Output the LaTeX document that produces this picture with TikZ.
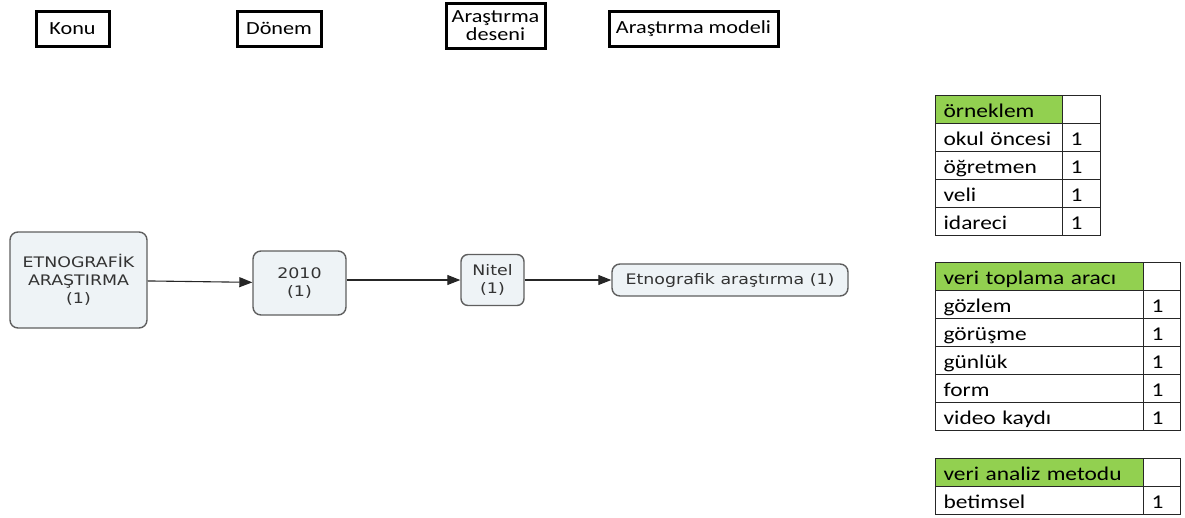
\documentclass[tikz,border=0pt]{standalone}
\usepackage{fontspec}
\setmainfont{Carlito}[FakeStretch=1.2]
\newfontfamily\flowfont{DejaVu Sans}[FakeStretch=1.2]
\usetikzlibrary{positioning, arrows.meta}
\definecolor{HeadGreen}{HTML}{92D050}
\definecolor{FlowFill}{HTML}{EEF3F6}
\definecolor{FlowLine}{HTML}{5F5F5F}
\definecolor{FlowText}{HTML}{333333}

\begin{document}
\begin{tikzpicture}[x=1pt, y=-1pt,
  head/.style={draw=black, line width=3pt, font=\fontsize{18.5}{20}\selectfont,
               align=center, inner sep=1pt, minimum height=35pt},
  flow/.style={rounded corners=8pt, draw=FlowLine, line width=1.4pt, fill=FlowFill,
               font=\flowfont\fontsize{14.5}{18}\selectfont, text=FlowText, align=center},
  arr/.style={-{Triangle[length=13pt, width=10pt]}, line width=1.1pt, draw=black!85},
  cell/.style={draw=black!85, line width=1.2pt, anchor=north west, text width=#1,
               minimum height=28pt, inner xsep=8pt, inner ysep=0pt, align=left,
               text height=17pt, text depth=2pt, font=\fontsize{19.5}{20}\selectfont},
  headcell/.style={cell=#1, fill=HeadGreen},
]
  \useasboundingbox (0,0) rectangle (1185,517);

  % column titles
  \node[head, minimum width=73pt] (konuh) at (72.5,28.5) {Konu};
  \node[head, minimum width=84pt] (donemh) at (279,28.5) {Dönem};
  \node[head, minimum width=99pt, minimum height=45pt] (desenh) at (495.5,25.5) {Araştırma\\[-2pt]deseni};
  \node[head, minimum width=169pt] (modelh) at (693.5,28.5) {Araştırma modeli};

  % flow
  \node[flow, minimum width=137pt, minimum height=96pt] (konu) at (78.5,280) {ETNOGRAFİK\\ARAŞTIRMA\\(1)};
  \node[flow, minimum width=93pt, minimum height=64pt] (donem) at (299.5,283) {2010\\(1)};
  \node[flow, minimum width=63pt, minimum height=51pt, rounded corners=7pt] (desen) at (492.5,280) {Nitel\\(1)};
  \node[flow, minimum width=236pt, minimum height=32pt] (model) at (730,280) {Etnografik araştırma (1)};

  \draw[arr] (konu) -- (donem);
  \draw[arr] (donem.east |- desen) -- (desen);
  \draw[arr] (desen) -- (model);

  % orneklem table
  \node[headcell=111pt] (orn-0) at (935,95) {örneklem};
  \node[cell=22pt] (ornn-0) at (1062,95) {};
  \foreach \txt [count=\i] in {okul öncesi, öğretmen, veli, idareci} {
    \node[cell=111pt] (orn-\i) at (935,{95+28*\i}) {\txt};
    \node[cell=22pt] (ornn-\i) at (1062,{95+28*\i}) {1};
  }

  % veri toplama table
  \node[headcell=192pt] (vt-0) at (935,262) {veri toplama aracı};
  \node[cell=21pt] (vtn-0) at (1143,262) {};
  \foreach \txt [count=\i] in {gözlem, görüşme, günlük, form, video kaydı} {
    \node[cell=192pt] (vt-\i) at (935,{262+28*\i}) {\txt};
    \node[cell=21pt] (vtn-\i) at (1143,{262+28*\i}) {1};
  }

  % veri analiz table
  \node[headcell=192pt] (va-0) at (935,458) {veri analiz metodu};
  \node[cell=21pt] (van-0) at (1143,458) {};
  \node[cell=192pt] (va-1) at (935,486) {betimsel};
  \node[cell=21pt] (van-1) at (1143,486) {1};
\end{tikzpicture}
\end{document}
